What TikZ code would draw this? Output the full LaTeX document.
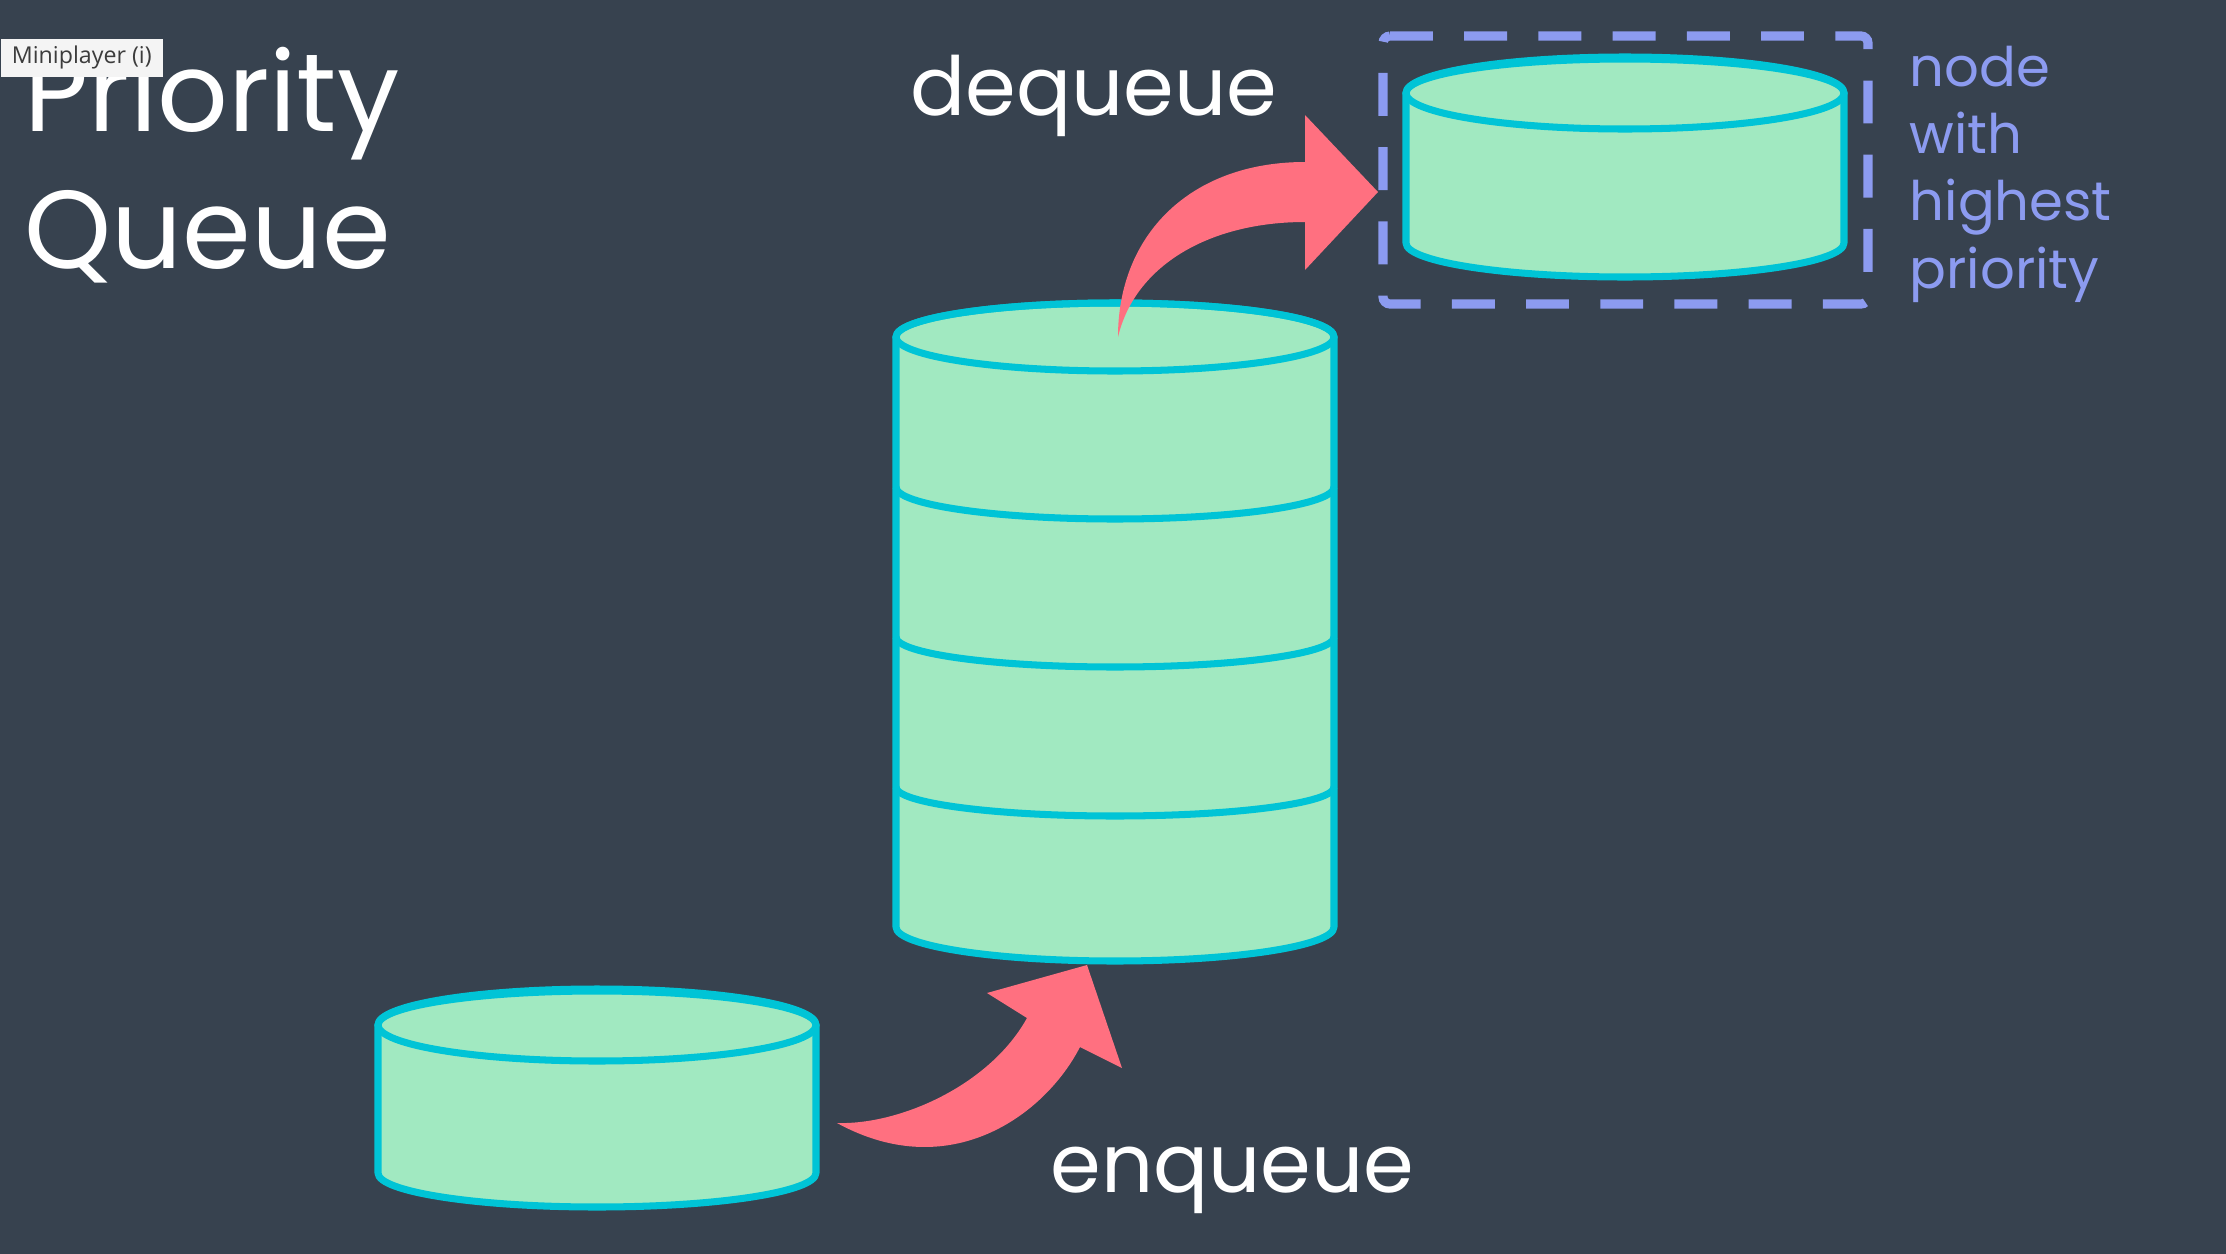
\documentclass[tikz,border=0pt]{standalone}
\usepackage{fontspec}
\setmainfont{Poppins}
\newfontfamily\uifont{Open Sans}
\usetikzlibrary{calc}

\definecolor{slate}{HTML}{37424F}
\definecolor{mint}{HTML}{A1E9C1}
\definecolor{tubline}{HTML}{00C4D6}
\definecolor{coral}{HTML}{FF7080}
\definecolor{periwinkle}{HTML}{8C9BF0}
\definecolor{tipfill}{HTML}{F4F4F4}
\definecolor{tiptext}{HTML}{3C3C3C}

\begin{document}
\begin{tikzpicture}[x = 0.01cm, y = -0.01cm,
    tub/.style    = {draw=tubline, fill=mint, line width=2pt, line join=round},
    ring/.style   = {draw=tubline, line width=2pt},
    hilite/.style = {draw=periwinkle, line width=2.6pt, dash pattern=on 12.2pt off 8.9pt,
                     rounded corners=2pt},
    bigarrow/.style = {fill=coral},
    word/.style   = {text=white, inner sep=0pt, anchor=base west}]

    \def\rx{219}
    \def\ry{34}

    \useasboundingbox (0,0) rectangle (2226,1254);
    \fill[slate] (0,0) rectangle (2226,1254);

    % the queue
    \draw[tub] (896,337) -- (896,927) arc[start angle=180, end angle=0, x radius=\rx, y radius=\ry]
        -- (1334,337) arc[start angle=0, end angle=-180, x radius=\rx, y radius=\ry] -- cycle;
    \foreach \y/\r in {487/32, 637/30, 787/29}
        \draw[ring] (896,\y) arc[start angle=180, end angle=0, x radius=\rx, y radius=\r];
    \draw[ring] (1115,337) ellipse[x radius=\rx, y radius=\ry];
    \coordinate (queue top) at (1118,337);
    \coordinate (queue bottom) at (1087,965);

    % node coming in
    \draw[tub] (378,1025) -- (378,1173) arc[start angle=180, end angle=0, x radius=\rx, y radius=\ry]
        -- (816,1025) arc[start angle=0, end angle=-180, x radius=\rx, y radius=\ry] -- cycle;
    \draw[ring] (597,1025) ellipse[x radius=\rx, y radius=36];

    % node going out
    \draw[tub] (1406,93) -- (1406,243) arc[start angle=180, end angle=0, x radius=\rx, y radius=\ry]
        -- (1844,93) arc[start angle=0, end angle=-180, x radius=\rx, y radius=\ry] -- cycle;
    \draw[ring] (1625,93) ellipse[x radius=\rx, y radius=36];
    \draw[hilite] (1383,36) -- (1868,36) -- (1868,304) -- (1383,304) -- cycle;

    % arrows
    \fill[bigarrow] (queue top) .. controls (1118,235) and (1190,162) .. (1305,162)
        -- (1305,115) -- (1378,192) -- (1305,270) -- (1305,222)
        .. controls (1210,222) and (1135,265) .. (queue top) -- cycle;
    \fill[bigarrow] (837,1123) .. controls (900,1125) and (990,1085) .. (1027,1018)
        -- (987,993) -- (queue bottom) -- (1122,1068) -- (1080,1047)
        .. controls (1045,1115) and (950,1185) .. (837,1123) -- cycle;

    % texts (base anchor sits on the last line)
    \node[word, align=left, font=\fontsize{31.5}{38.7}\selectfont] (title) at (24,268) {Priority\\Queue};
    \node[word, font=\fontsize{23.2}{28}\selectfont] (deq) at (910,115) {dequeue};
    \node[word, font=\fontsize{23.2}{28}\selectfont] (enq) at (1050,1192) {enqueue};
    \node[word, text=periwinkle, align=left, font=\fontsize{15.5}{19.1}\selectfont] (note) at (1909,288)
        {node\\with\\highest\\priority};

    \node[anchor=north west, fill=tipfill, text=tiptext, inner sep=0pt, minimum width=1.62cm,
          minimum height=0.38cm, font=\uifont\fontsize{6.6}{7}\selectfont] (tip) at (0,38) {Miniplayer (i)};

\end{tikzpicture}
\end{document}
